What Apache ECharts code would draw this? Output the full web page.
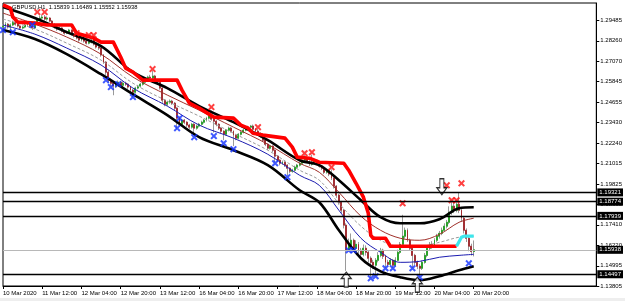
<!DOCTYPE html>
<html><head><meta charset="utf-8">
<script src="https://cdn.jsdelivr.net/npm/echarts@6/dist/echarts.min.js"></script>
<style>html,body{margin:0;padding:0;background:#fff}#c{width:625px;height:301px}</style>
</head><body><div id="c"></div>
<script>
// ---------- DATA ----------
const titleText = 'GBPUSD,H1  1.15839 1.16489 1.15552 1.15938';
const slotCount = 243; // hourly slots incl. empty chart shift
const tickIdx = [0,16,32,48,64,80,96,112,128,144,160,176,192];
const tickLabels = ['10 Mar 2020','11 Mar 12:00','12 Mar 04:00','12 Mar 20:00','13 Mar 12:00','16 Mar 04:00','16 Mar 20:00','17 Mar 12:00','18 Mar 04:00','18 Mar 20:00','19 Mar 12:00','20 Mar 04:00','20 Mar 20:00'];
const yTicks = [1.29485,1.28260,1.27070,1.25845,1.24655,1.23430,1.22240,1.21015,1.19825,1.18630,1.17410,1.16220,1.14995,1.13805];
const yMin = 1.13805, yMax = 1.30487;

const opens = [1.2907,
1.2913,1.2924,1.2907,1.2919,1.2936,1.2924,1.2913,1.2901,1.2907,1.2919,
1.2924,1.2913,1.2901,1.2930,1.2948,1.2960,1.2966,1.2954,1.2960,1.2942,
1.2924,1.2907,1.2895,1.2901,1.2883,1.2871,1.2877,1.2889,1.2865,1.2854,
1.2842,1.2830,1.2836,1.2824,1.2812,1.2818,1.2830,1.2806,1.2789,1.2783,
1.2742,1.2700,1.2641,1.2594,1.2576,1.2559,1.2570,1.2582,1.2564,1.2576,
1.2570,1.2553,1.2535,1.2523,1.2547,1.2559,1.2570,1.2582,1.2594,1.2612,
1.2606,1.2618,1.2594,1.2582,1.2547,1.2476,1.2452,1.2464,1.2470,1.2458,
1.2429,1.2370,1.2334,1.2358,1.2346,1.2329,1.2317,1.2334,1.2311,1.2323,
1.2334,1.2346,1.2358,1.2370,1.2382,1.2364,1.2352,1.2334,1.2311,1.2293,
1.2275,1.2299,1.2311,1.2293,1.2269,1.2252,1.2275,1.2287,1.2299,1.2311,
1.2317,1.2323,1.2305,1.2293,1.2281,1.2264,1.2240,1.2216,1.2193,1.2205,
1.2181,1.2146,1.2122,1.2104,1.2110,1.2093,1.2075,1.2057,1.2063,1.2081,
1.2093,1.2104,1.2122,1.2134,1.2116,1.2098,1.2110,1.2122,1.2104,1.2087,
1.2075,1.2051,1.2063,1.2040,1.2016,1.1969,1.1916,1.1874,1.1827,1.1739,
1.1591,1.1621,1.1650,1.1603,1.1626,1.1591,1.1567,1.1603,1.1579,1.1544,
1.1520,1.1503,1.1532,1.1561,1.1591,1.1556,1.1520,1.1508,1.1532,1.1503,
1.1532,1.1579,1.1626,1.1674,1.1709,1.1650,1.1603,1.1561,1.1520,1.1497,
1.1485,1.1520,1.1561,1.1603,1.1626,1.1615,1.1650,1.1674,1.1691,1.1709,
1.1733,1.1756,1.1815,1.1851,1.1827,1.1862,1.1827,1.1780,1.1709,1.1662,
1.1615,1.15839];

const closes = [
1.2913,1.2924,1.2907,1.2919,1.2936,1.2924,1.2913,1.2901,1.2907,1.2919,
1.2924,1.2913,1.2901,1.2930,1.2948,1.2960,1.2966,1.2954,1.2960,1.2942,
1.2924,1.2907,1.2895,1.2901,1.2883,1.2871,1.2877,1.2889,1.2865,1.2854,
1.2842,1.2830,1.2836,1.2824,1.2812,1.2818,1.2830,1.2806,1.2789,1.2783,
1.2742,1.2700,1.2641,1.2594,1.2576,1.2559,1.2570,1.2582,1.2564,1.2576,
1.2570,1.2553,1.2535,1.2523,1.2547,1.2559,1.2570,1.2582,1.2594,1.2612,
1.2606,1.2618,1.2594,1.2582,1.2547,1.2476,1.2452,1.2464,1.2470,1.2458,
1.2429,1.2370,1.2334,1.2358,1.2346,1.2329,1.2317,1.2334,1.2311,1.2323,
1.2334,1.2346,1.2358,1.2370,1.2382,1.2364,1.2352,1.2334,1.2311,1.2293,
1.2275,1.2299,1.2311,1.2293,1.2269,1.2252,1.2275,1.2287,1.2299,1.2311,
1.2317,1.2323,1.2305,1.2293,1.2281,1.2264,1.2240,1.2216,1.2193,1.2205,
1.2181,1.2146,1.2122,1.2104,1.2110,1.2093,1.2075,1.2057,1.2063,1.2081,
1.2093,1.2104,1.2122,1.2134,1.2116,1.2098,1.2110,1.2122,1.2104,1.2087,
1.2075,1.2051,1.2063,1.2040,1.2016,1.1969,1.1916,1.1874,1.1827,1.1739,
1.1591,1.1621,1.1650,1.1603,1.1626,1.1591,1.1567,1.1603,1.1579,1.1544,
1.1520,1.1503,1.1532,1.1561,1.1591,1.1556,1.1520,1.1508,1.1532,1.1503,
1.1532,1.1579,1.1626,1.1674,1.1709,1.1650,1.1603,1.1561,1.1520,1.1497,
1.1485,1.1520,1.1561,1.1603,1.1626,1.1615,1.1650,1.1674,1.1691,1.1709,
1.1733,1.1756,1.1815,1.1851,1.1827,1.1862,1.1827,1.1780,1.1709,1.1662,
1.1615,1.15839,1.15938];

const highs = [
1.2925,1.2936,1.2930,1.2928,1.2945,1.2942,1.2930,1.2918,1.2915,1.2926,
1.2934,1.2930,1.2918,1.2938,1.2958,1.2975,1.2980,1.2978,1.2970,1.2965,
1.2948,1.2930,1.2912,1.2910,1.2906,1.2888,1.2886,1.2896,1.2893,1.2870,
1.2862,1.2848,1.2845,1.2842,1.2830,1.2828,1.2838,1.2835,1.2812,1.2796,
1.2788,1.2748,1.2706,1.2650,1.2605,1.2585,1.2580,1.2592,1.2590,1.2586,
1.2585,1.2576,1.2560,1.2542,1.2555,1.2566,1.2578,1.2590,1.2602,1.2620,
1.2625,1.2650,1.2625,1.2600,1.2588,1.2552,1.2482,1.2472,1.2480,1.2478,
1.2465,1.2435,1.2380,1.2366,1.2365,1.2352,1.2336,1.2342,1.2340,1.2332,
1.2342,1.2355,1.2366,1.2378,1.2420,1.2415,1.2370,1.2358,1.2340,1.2318,
1.2298,1.2306,1.2320,1.2318,1.2298,1.2275,1.2282,1.2295,1.2306,1.2318,
1.2325,1.2330,1.2332,1.2312,1.2305,1.2286,1.2270,1.2246,1.2222,1.2212,
1.2210,1.2186,1.2152,1.2128,1.2120,1.2116,1.2098,1.2080,1.2072,1.2090,
1.2100,1.2112,1.2132,1.2152,1.2140,1.2122,1.2155,1.2130,1.2128,1.2110,
1.2093,1.2082,1.2070,1.2070,1.2068,1.2022,1.1975,1.1925,1.1882,1.1835,
1.1750,1.1660,1.1690,1.1660,1.1650,1.1640,1.1605,1.1625,1.1620,1.1590,
1.1555,1.1535,1.1545,1.1580,1.1605,1.1600,1.1565,1.1535,1.1545,1.1540,
1.1550,1.1595,1.1640,1.1800,1.1725,1.1720,1.1660,1.1610,1.1570,1.1530,
1.1510,1.1530,1.1575,1.1615,1.1640,1.1645,1.1662,1.1688,1.1705,1.1725,
1.1750,1.1770,1.1850,1.1880,1.1878,1.1885,1.1930,1.1840,1.1790,1.1720,
1.1675,1.1630,1.16489];

const lows = [
1.2895,1.2905,1.2898,1.2889,1.2912,1.2915,1.2905,1.2892,1.2894,1.2900,
1.2912,1.2906,1.2890,1.2896,1.2925,1.2942,1.2952,1.2946,1.2945,1.2935,
1.2915,1.2898,1.2885,1.2888,1.2876,1.2862,1.2865,1.2870,1.2858,1.2845,
1.2834,1.2820,1.2822,1.2815,1.2804,1.2805,1.2810,1.2798,1.2780,1.2772,
1.2732,1.2690,1.2625,1.2580,1.2560,1.2505,1.2548,1.2560,1.2555,1.2555,
1.2560,1.2542,1.2525,1.2494,1.2515,1.2540,1.2550,1.2562,1.2575,1.2588,
1.2598,1.2600,1.2585,1.2572,1.2538,1.2460,1.2440,1.2442,1.2455,1.2448,
1.2418,1.2305,1.2320,1.2325,1.2335,1.2318,1.2305,1.2308,1.2270,1.2302,
1.2315,1.2326,1.2338,1.2350,1.2362,1.2355,1.2285,1.2322,1.2300,1.2282,
1.2240,1.2268,1.2292,1.2285,1.2205,1.2240,1.2245,1.2268,1.2280,1.2292,
1.2302,1.2308,1.2298,1.2285,1.2272,1.2255,1.2232,1.2205,1.2182,1.2185,
1.2170,1.2110,1.2110,1.2092,1.2095,1.2082,1.2030,1.2045,1.2048,1.2055,
1.2072,1.2085,1.2095,1.2115,1.2108,1.2088,1.2090,1.2100,1.2095,1.2078,
1.2064,1.2040,1.2042,1.2028,1.2005,1.1955,1.1900,1.1860,1.1810,1.1720,
1.1470,1.1585,1.1605,1.1592,1.1595,1.1570,1.1550,1.1555,1.1560,1.1520,
1.1428,1.1480,1.1440,1.1520,1.1550,1.1540,1.1488,1.1495,1.1500,1.1488,
1.1495,1.1525,1.1570,1.1615,1.1660,1.1640,1.1590,1.1488,1.1505,1.1480,
1.1435,1.1475,1.1512,1.1550,1.1590,1.1600,1.1605,1.1640,1.1660,1.1680,
1.1700,1.1720,1.1745,1.1800,1.1810,1.1815,1.1810,1.1760,1.1690,1.1640,
1.1585,1.1560,1.15552];

// envelope / band indicators, read at these bar positions
const bandIdx    = [0,13,26,40,53,67,80,94,108,121,129,137,146,154,162,170,178,186,192];
const upperBand  = [1.3025,1.2960,1.2877,1.2795,1.2641,1.2547,1.2441,1.2346,1.2240,1.2122,1.2093,1.2004,1.1886,1.1786,1.1750,1.1750,1.1774,1.1839,1.1845];
const upperMid   = [1.2989,1.2924,1.2848,1.2747,1.2612,1.2506,1.2417,1.2317,1.2216,1.2104,1.2051,1.1933,1.1792,1.1709,1.1662,1.1650,1.1685,1.1756,1.1780];
const centreLine = [1.2954,1.2895,1.2812,1.2712,1.2576,1.2470,1.2382,1.2281,1.2181,1.2063,1.2004,1.1868,1.1733,1.1650,1.1615,1.1615,1.1638,1.1668,1.1674];
const lowerMid   = [1.2919,1.2865,1.2783,1.2683,1.2547,1.2441,1.2329,1.2252,1.2157,1.2033,1.1974,1.1827,1.1662,1.1579,1.1520,1.1526,1.1550,1.1561,1.1567];
const lowerBand  = [1.2889,1.2836,1.2747,1.2629,1.2511,1.2388,1.2258,1.2181,1.2093,1.1945,1.1874,1.1709,1.1544,1.1467,1.1432,1.1414,1.1438,1.1473,1.1497];

// trailing stop line (red) and its last segment (cyan)
const stopIdx = [0,3,4,6,13,18,28,30,37,40,45,48,50,53,57,71,73,76,80,86,94,97,100,102,106,112,115,118,120,125,129,139,141,144,147,149,150,151,156,158,185];
const stopVal = [1.3037,1.3019,1.2966,1.2936,1.2930,1.2919,1.2919,1.2871,1.2842,1.2818,1.2818,1.2730,1.2665,1.2641,1.2594,1.2594,1.2535,1.2458,1.2429,1.2376,1.2370,1.2329,1.2311,1.2281,1.2270,1.2258,1.2252,1.2199,1.2140,1.2134,1.2110,1.2104,1.2063,1.1986,1.1904,1.1809,1.1679,1.1662,1.1662,1.1615,1.1615];
const stop2Idx = [185,187,188,192];
const stop2Val = [1.1615,1.1668,1.1674,1.1674];

// signal marks
const redXIdx = [14,17,30,35,37,61,85,104,123,126,134,163,181,183,185,187];
const redXVal = [1.2995,1.2995,1.2871,1.2859,1.2859,1.2659,1.2435,1.2317,1.2163,1.2169,1.2081,1.1868,1.1974,1.1886,1.1886,1.1986];
const blueXIdx = [0,4,12,42,44,47,53,71,72,78,86,90,94,111,116,141,143,150,152,156,159,167,170,190];
const blueXVal = [1.2889,1.2877,1.2919,1.2594,1.2553,1.2570,1.2494,1.2311,1.2370,1.2258,1.2264,1.2222,1.2187,1.2104,1.2022,1.1591,1.1591,1.1426,1.1438,1.1485,1.1485,1.1485,1.1432,1.1514];
const upArrowIdx = [140,169];
const upArrowVal = [1.1418,1.1388];
const downArrowIdx = [179];
const downArrowVal = [1.1966];

// horizontal levels
const levels = [1.19321,1.18774,1.17939,1.14497];
const bidPrice = 1.15938;

// ---------- CHART ----------
const FONT = 'Liberation Sans';
const slots = Array.from({length: slotCount}, (_, i) => String(i));
const pairs = (xs, ys) => xs.map((x, k) => [x, ys[k]]);
const wickData = opens.map((o, i) => [o, closes[i], lows[i], highs[i]]);
const bodyData = opens.map((o, i) => [o, closes[i], Math.min(o, closes[i]), Math.max(o, closes[i])]);
const tickSet = new Set(tickIdx);
const XPATH = 'path://M2,0 L5,3 L8,0 L10,2 L7,5 L10,8 L8,10 L5,7 L2,10 L0,8 L3,5 L0,2 Z';
const ARROW = 'path://M5,0 L10,6 L7,6 L7,14 L3,14 L3,6 L0,6 Z';

const bandLine = (name, vals, color, width, type) => ({
  name, type: 'line', data: pairs(bandIdx, vals), showSymbol: false, smooth: 0.35,
  lineStyle: {color, width, type: type || 'solid'}, z: 3, silent: true
});

const chart = echarts.init(document.getElementById('c'), null, {renderer: 'canvas'});
chart.setOption({
  animation: false,
  backgroundColor: '#fff',
  grid: {left: 2, top: 3, width: 596, height: 283, show: true, borderColor: '#000', borderWidth: 1, backgroundColor: '#fff'},
  xAxis: {
    type: 'category', data: slots, boundaryGap: false,
    axisLine: {show: true, lineStyle: {color: '#000', width: 1}},
    axisTick: {show: true, length: 3, interval: (i) => tickSet.has(i), lineStyle: {color: '#000'}},
    axisLabel: {show: true, interval: (i) => tickSet.has(i), align: 'left', margin: 4,
      formatter: (v, i) => tickLabels[tickIdx.indexOf(i)] || '', fontSize: 6, fontFamily: FONT, color: '#000'},
    splitLine: {show: false}
  },
  yAxis: {
    type: 'value', position: 'right', min: yMin, max: yMax, scale: true,
    axisLine: {show: true, lineStyle: {color: '#000', width: 1}},
    axisTick: {show: true, length: 3, customValues: yTicks, lineStyle: {color: '#000'}},
    axisLabel: {show: true, customValues: yTicks, formatter: (v) => v.toFixed(5), fontSize: 6, fontFamily: FONT, color: '#000', margin: 4},
    splitLine: {show: false}
  },
  graphic: [
    {type: 'rect', left: 0, top: 298, shape: {width: 625, height: 3}, style: {fill: '#eeeeee'}, silent: true},
    {type: 'text', left: 12, top: 4, z: 100, style: {text: titleText, font: '5.8px ' + FONT, fill: '#000'}}
  ],
  series: [
    {
      name: 'wicks', type: 'candlestick', data: wickData, barWidth: 1.4, z: 2,
      itemStyle: {color: '#9a9a9a', color0: '#9a9a9a', borderColor: '#9a9a9a', borderColor0: '#9a9a9a', borderWidth: 1},
      markLine: {
        silent: true, symbol: 'none', animation: false, z: 20, precision: 5,
        label: {show: true, position: 'end', distance: 1, formatter: (p) => Number(p.value).toFixed(5),
          backgroundColor: '#000', color: '#fff', fontSize: 6, fontFamily: FONT, padding: [1, 2, 1, 2]},
        data: levels.map(v => ({yAxis: v, lineStyle: {color: '#000', width: 1.3, type: 'solid'}}))
          .concat([{yAxis: bidPrice, lineStyle: {color: '#b8b8b8', width: 1, type: 'solid'}}])
      }
    },
    {
      name: 'bodies', type: 'candlestick', data: bodyData, barWidth: 1.4, z: 2,
      itemStyle: {color: '#1fa31f', color0: '#a3242a', borderColor: '#1fa31f', borderColor0: '#a3242a', borderWidth: 0.8}
    },
    bandLine('centre', centreLine, '#9a9a9a', 1, [3, 2]),
    bandLine('upperMid', upperMid, '#a0302a', 1),
    bandLine('lowerMid', lowerMid, '#1c1cb0', 1),
    bandLine('upper', upperBand, '#000', 2.6),
    bandLine('lower', lowerBand, '#000', 2.6),
    {name: 'stop', type: 'line', data: pairs(stopIdx, stopVal), showSymbol: false, z: 4, silent: true,
      lineStyle: {color: '#ff0000', width: 3.6, join: 'round'}},
    {name: 'stop2', type: 'line', data: pairs(stop2Idx, stop2Val), showSymbol: false, z: 4, silent: true,
      lineStyle: {color: '#3ee6ec', width: 3.2, join: 'round'}},
    {name: 'redX', type: 'scatter', data: pairs(redXIdx, redXVal), symbol: XPATH, symbolSize: 7, z: 6,
      itemStyle: {color: '#ff1010'}, silent: true},
    {name: 'blueX', type: 'scatter', data: pairs(blueXIdx, blueXVal), symbol: XPATH, symbolSize: 7, z: 6,
      itemStyle: {color: '#1030ff'}, silent: true},
    {name: 'upArrow', type: 'scatter', data: pairs(upArrowIdx, upArrowVal), symbol: ARROW, symbolSize: [10, 15], z: 7, clip: false,
      itemStyle: {color: '#fff', borderColor: '#000', borderWidth: 1.2}, silent: true},
    {name: 'downArrow', type: 'scatter', data: pairs(downArrowIdx, downArrowVal), symbol: ARROW, symbolSize: [10, 16], symbolRotate: 180, z: 7, clip: false,
      itemStyle: {color: '#fff', borderColor: '#000', borderWidth: 1.2}, silent: true}
  ]
});
</script></body></html>
